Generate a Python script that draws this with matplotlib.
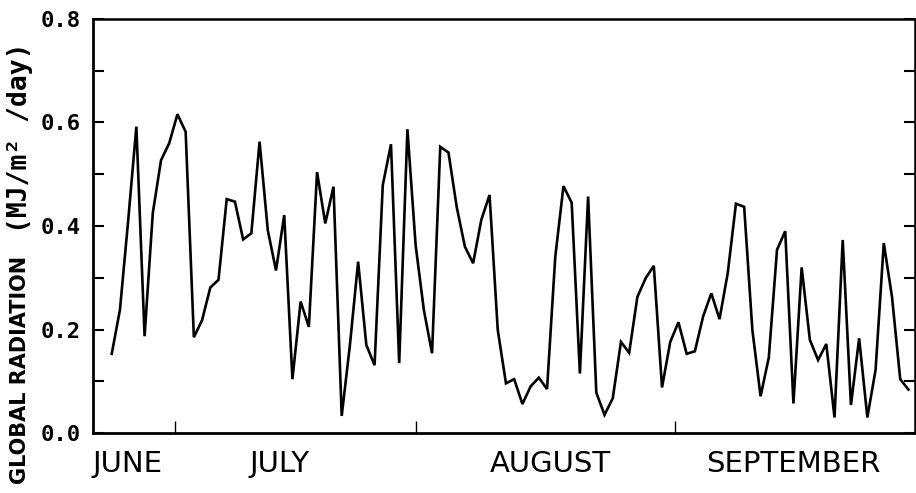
import numpy as np
import matplotlib
matplotlib.use("Agg")
import matplotlib.pyplot as plt
import matplotlib.transforms as mtransforms

# Daily global radiation, late June to end of September (MJ/m2/day)
radiation = [
    0.153, 0.238, 0.410, 0.592, 0.187, 0.425, 0.527, 0.560, 0.616, 0.582,
    0.185, 0.218, 0.281, 0.296, 0.452, 0.447, 0.374, 0.386, 0.563, 0.392,
    0.314, 0.421, 0.104, 0.254, 0.205, 0.504, 0.405, 0.476, 0.033, 0.170,
    0.331, 0.170, 0.131, 0.479, 0.558, 0.135, 0.587, 0.363, 0.238, 0.154,
    0.553, 0.542, 0.437, 0.360, 0.328, 0.412, 0.460, 0.199, 0.096, 0.104,
    0.056, 0.090, 0.107, 0.085, 0.340, 0.477, 0.445, 0.115, 0.457, 0.078,
    0.035, 0.067, 0.176, 0.155, 0.263, 0.299, 0.323, 0.088, 0.176, 0.214,
    0.153, 0.158, 0.225, 0.270, 0.220, 0.309, 0.443, 0.437, 0.199, 0.071,
    0.146, 0.354, 0.390, 0.057, 0.320, 0.180, 0.141, 0.172, 0.030, 0.373,
    0.054, 0.183, 0.030, 0.122, 0.367, 0.263, 0.104, 0.084,
]
days = np.arange(len(radiation))

# month boundary ticks and month name positions (in day units)
month_ticks = [7.7, 37.06, 68.6]
month_names = ["JUNE", "JULY", "AUGUST", "SEPTEMBER"]
month_centers = [1.86, 20.4, 53.4, 83.0]

fig = plt.figure(figsize=(9.16, 4.93), dpi=100)
ax = fig.add_axes([93 / 916, 1 - 433 / 493, 822 / 916, 414 / 493])

ax.plot(days, radiation, color="black", linewidth=1.9, solid_joinstyle="miter")

ax.set_xlim(-2.28, 97.8)
ax.set_ylim(0, 0.8)

# y ticks every 0.1, labelled every 0.2, on both sides pointing in
ax.set_yticks(np.arange(0, 0.81, 0.1))
ax.set_yticklabels(["0.0", "", "0.2", "", "0.4", "", "0.6", "", "0.8"],
                   family="DejaVu Sans Mono", fontweight="bold", fontsize=16)
ax.tick_params(axis="y", direction="in", length=8, width=1.5, right=True, pad=9)

ax.set_xticks(month_ticks)
ax.set_xticklabels([])
ax.tick_params(axis="x", direction="in", length=9, width=1.0)

for side in ["left", "bottom"]:
    ax.spines[side].set_linewidth(2.0)
for side in ["top", "right"]:
    ax.spines[side].set_linewidth(1.8)

trans = mtransforms.blended_transform_factory(ax.transData, ax.transAxes)
for name, xc in zip(month_names, month_centers):
    ax.text(xc, -0.075, name, transform=trans, ha="center", va="center",
            family="DejaVu Sans", fontsize=21)

# axis title in two parts
fig.text(20 / 916, 1 - 370 / 493, "GLOBAL RADIATION", rotation=90,
         ha="center", va="center", family="DejaVu Sans",
         fontweight="bold", fontsize=15)
fig.text(20 / 916, 1 - 138 / 493, "(MJ/m² /day)", rotation=90,
         ha="center", va="center", family="DejaVu Sans Mono",
         fontweight="bold", fontsize=19)

fig.savefig("out.png", dpi=100)
